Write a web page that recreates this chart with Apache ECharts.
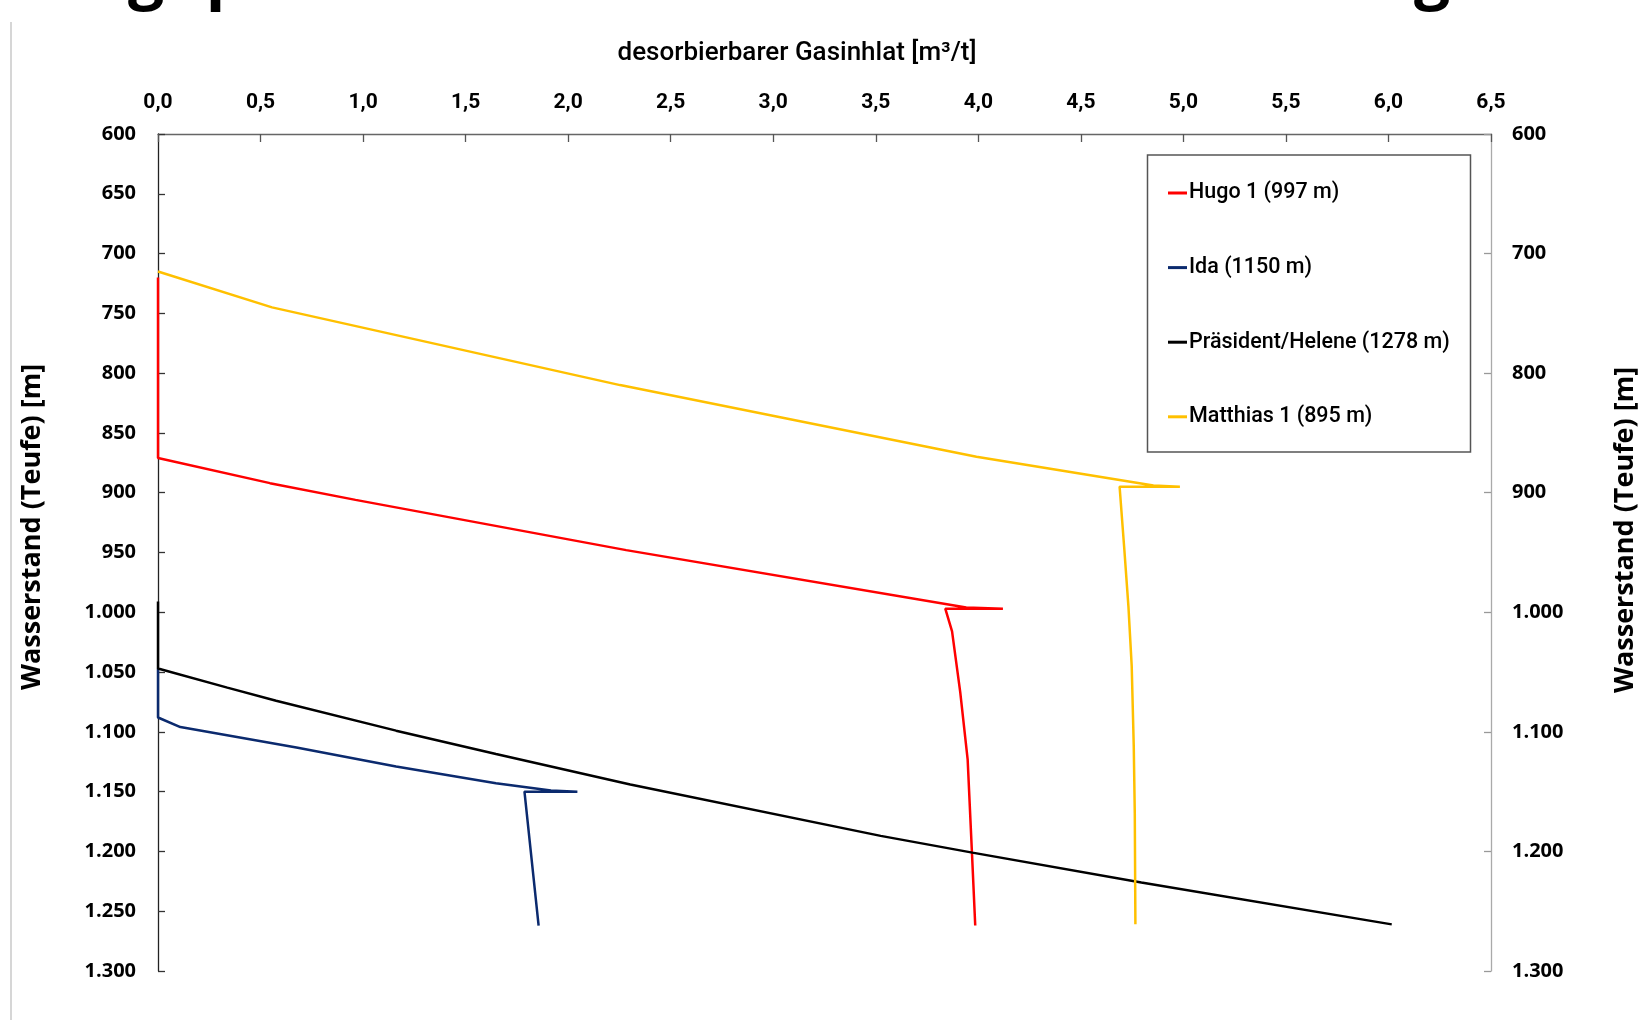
<!DOCTYPE html>
<html>
<head>
<meta charset="utf-8">
<script src="https://cdn.jsdelivr.net/npm/echarts@6/dist/echarts.min.js"></script>
<style>
html,body{margin:0;padding:0;background:#fff;}
#c{width:1639px;height:1020px;}
</style>
</head>
<body>
<div id="c"></div>
<script>
// ---- data (x = desorbierbarer Gasinhalt [m³/t], depth = Wasserstand/Teufe [m]) ----
const seriesNames = ['Hugo 1 (997 m)', 'Ida (1150 m)', 'Präsident/Helene (1278 m)', 'Matthias 1 (895 m)'];

const hugoX     = [0, 0, 0.546, 0.963, 2.283, 3.941, 4.12, 3.839, 3.872, 3.912, 3.948, 3.969, 3.985];
const hugoDepth = [720, 871, 892, 906, 948, 996, 997, 997, 1016, 1067, 1123, 1201, 1262];

const idaX      = [0, 0, 0.109, 0.675, 1.161, 1.648, 1.916, 2.045, 1.787, 1.856];
const idaDepth  = [1047, 1088, 1096, 1113, 1129, 1143, 1149, 1150, 1150, 1262];

const praesX     = [0, 0, 0.338, 0.576, 1.161, 1.648, 2.303, 3.524, 3.971, 4.795, 6.016];
const praesDepth = [991, 1047, 1063, 1074, 1099, 1118.5, 1144, 1187, 1201, 1226, 1261];

const matthiasX     = [0, 0.556, 2.253, 3.991, 4.854, 4.983, 4.689, 4.711, 4.732, 4.748, 4.758, 4.763, 4.766];
const matthiasDepth = [715, 745, 810, 870, 894, 895, 895, 945, 995, 1045, 1112, 1168, 1261];

const xTicks = [0, 0.5, 1, 1.5, 2, 2.5, 3, 3.5, 4, 4.5, 5, 5.5, 6, 6.5];
const colors = ['#FF0000', '#0B2A6E', '#000000', '#FFC000'];

function pairs(xs, ds) { return xs.map((v, i) => [v, ds[i]]); }
const allData = [pairs(hugoX, hugoDepth), pairs(idaX, idaDepth), pairs(praesX, praesDepth), pairs(matthiasX, matthiasDepth)];

function fmtDepth(v) {
  if (v >= 1000) { const r = String(v % 1000).padStart(3, '0'); return Math.floor(v / 1000) + '.' + r; }
  return String(v);
}

const chart = echarts.init(document.getElementById('c'), null, {renderer: 'canvas'});
const labelFont = {fontFamily: '"Open Sans", sans-serif', fontWeight: 'bold', fontSize: 20, color: '#000', padding: [10, 0, 0, 0]};

const option = {
  backgroundColor: '#fff',
  animation: false,
  grid: {left: 158, top: 134, width: 1333, height: 837, containLabel: false},
  xAxis: {
    type: 'value', position: 'top', min: 0, max: 6.5, interval: 0.5,
    axisLine: {show: true, lineStyle: {color: '#666', width: 1.3}},
    axisTick: {show: true, inside: true, length: 8, lineStyle: {color: '#555', width: 1.3}},
    axisLabel: {margin: 21, formatter: v => v.toFixed(1).replace('.', ','),
      fontFamily: 'Roboto, sans-serif', fontWeight: 'bold', fontSize: 21, color: '#000'},
    splitLine: {show: false}
  },
  yAxis: [
    {
      type: 'value', position: 'left', inverse: true, min: 600, max: 1300, interval: 50,
      axisLine: {show: true, lineStyle: {color: '#222', width: 1.3}},
      axisTick: {show: true, inside: true, length: 7, lineStyle: {color: '#333', width: 1.3}},
      axisLabel: Object.assign({margin: 22, formatter: fmtDepth}, labelFont),
      splitLine: {show: false}
    },
    {
      type: 'value', position: 'right', inverse: true, min: 600, max: 1300, interval: 100,
      axisLine: {show: true, lineStyle: {color: '#aaa', width: 1.3}},
      axisTick: {show: true, inside: true, length: 7, lineStyle: {color: '#999', width: 1.3}},
      axisLabel: Object.assign({margin: 21, formatter: fmtDepth}, labelFont),
      splitLine: {show: false}
    }
  ],
  legend: {
    orient: 'vertical', left: 1168, top: 180,
    icon: 'rect', itemWidth: 19, itemHeight: 3, itemGap: 48.6,
    padding: 0,
    textStyle: {fontFamily: 'Roboto, sans-serif', fontWeight: 500, fontSize: 21.5, color: '#000', lineHeight: 26, padding: [0, 0, 0, -3]},
    data: seriesNames
  },
  series: seriesNames.map((name, i) => ({
    name: name, type: 'line', yAxisIndex: 0, data: allData[i],
    symbol: 'none', smooth: false,
    lineStyle: {color: colors[i], width: 2.5},
    itemStyle: {color: colors[i]}
  })),
  graphic: [
    {type: 'rect', shape: {x: 1147.5, y: 155, width: 323, height: 297}, style: {fill: 'none', stroke: '#555', lineWidth: 1.5}, z: 10},
    {type: 'line', shape: {x1: 11, y1: 22, x2: 11, y2: 1020}, style: {stroke: '#c8c8c8', lineWidth: 1.5}},
    {type: 'text', x: 797, y: 53, style: {text: 'desorbierbarer Gasinhlat [m³/t]', fontFamily: 'Roboto, sans-serif', fontWeight: 500, fontSize: 26, fill: '#000', align: 'center', verticalAlign: 'middle'}},
    {type: 'text', x: 32, y: 527, rotation: Math.PI / 2, style: {text: 'Wasserstand (Teufe) [m]', fontFamily: '"Open Sans", sans-serif', fontWeight: 'bold', fontSize: 27, fill: '#000', align: 'center', verticalAlign: 'middle'}},
    {type: 'text', x: 1625, y: 530, rotation: Math.PI / 2, style: {text: 'Wasserstand (Teufe) [m]', fontFamily: '"Open Sans", sans-serif', fontWeight: 'bold', fontSize: 27, fill: '#000', align: 'center', verticalAlign: 'middle'}},
    {type: 'text', x: 146, y: -54, style: {text: 'g', fontFamily: '"Open Sans", sans-serif', fontWeight: 'bold', fontSize: 64, fill: '#000', align: 'center', verticalAlign: 'top'}},
    {type: 'text', x: 226, y: -54, style: {text: 'p', fontFamily: '"Open Sans", sans-serif', fontWeight: 'bold', fontSize: 64, fill: '#000', align: 'center', verticalAlign: 'top'}},
    {type: 'text', x: 1432, y: -54, style: {text: 'g', fontFamily: '"Open Sans", sans-serif', fontWeight: 'bold', fontSize: 64, fill: '#000', align: 'center', verticalAlign: 'top'}}
  ]
};
chart.setOption(option);
</script>
</body>
</html>
